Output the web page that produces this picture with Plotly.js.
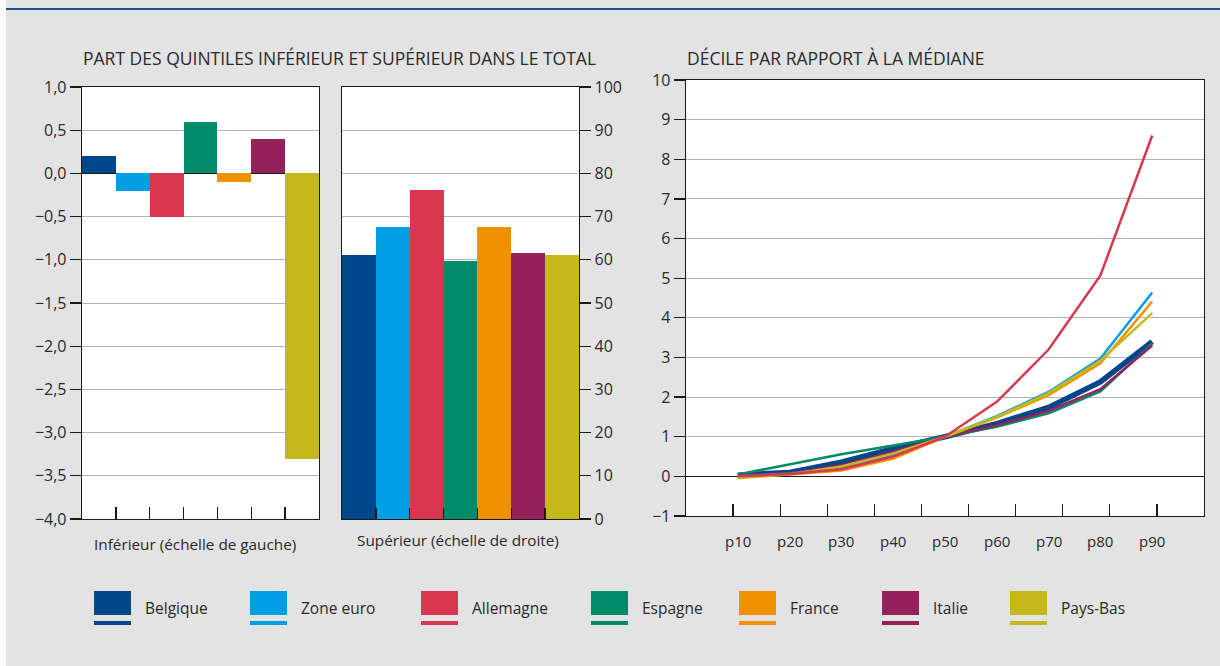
<!DOCTYPE html>
<html><head><meta charset="utf-8">
<script src="https://cdn.plot.ly/plotly-3.0.1.min.js"></script>
<style>html,body{margin:0;padding:0;background:#fff}#chart{width:1220px;height:666px}</style>
</head><body><div id="chart"></div>
<script>
// ---- data ----
const countries = ['Belgique','Zone euro','Allemagne','Espagne','France','Italie','Pays-Bas'];
const colors = ['#00468b','#009fe3','#d9374f','#008b68','#f29100','#95215c','#c4b919'];
const inferieur = [0.2, -0.2, -0.5, 0.6, -0.1, 0.4, -3.3];
const superieur = [61.1, 67.5, 76.1, 59.8, 67.5, 61.5, 61.1];
const deciles = ['p10','p20','p30','p40','p50','p60','p70','p80','p90'];
const belgique  = [0.03, 0.10, 0.36, 0.70, 1.00, 1.33, 1.74, 2.38, 3.40];
const zoneEuro  = [0.00, 0.07, 0.22, 0.52, 1.00, 1.52, 2.13, 2.97, 4.64];
const allemagne = [0.00, 0.06, 0.18, 0.50, 1.00, 1.88, 3.20, 5.07, 8.60];
const espagne   = [0.05, 0.30, 0.56, 0.78, 1.00, 1.25, 1.59, 2.14, 3.35];
const france    = [-0.02, 0.05, 0.15, 0.45, 1.00, 1.48, 2.05, 2.85, 4.41];
const italie    = [0.03, 0.08, 0.28, 0.62, 1.00, 1.29, 1.65, 2.20, 3.30];
const paysBas   = [-0.05, 0.05, 0.25, 0.58, 1.00, 1.50, 2.10, 2.92, 4.12];
const titleLeft = 'PART DES QUINTILES INFÉRIEUR ET SUPÉRIEUR DANS LE TOTAL';
const titleRight = 'DÉCILE PAR RAPPORT À LA MÉDIANE';
const labelInf = 'Inférieur (échelle de gauche)';
const labelSup = 'Supérieur (échelle de droite)';

// ---- layout helpers ----
const W = 1220, H = 666;
const px = x => x / W;
const py = y => 1 - y / H;
const FONT = '"Open Sans", "Noto Sans", sans-serif';
const TXT = '#2a2a2a';
const GRID = '#b4b4b4';

const lineSeries = [
  {name:'Belgique', y:belgique, c:0, w:5.5},
  {name:'Espagne', y:espagne, c:3, w:2.5},
  {name:'Italie', y:italie, c:5, w:2.5},
  {name:'Zone euro', y:zoneEuro, c:1, w:2.5},
  {name:'France', y:france, c:4, w:2.5},
  {name:'Pays-Bas', y:paysBas, c:6, w:2.5},
  {name:'Allemagne', y:allemagne, c:2, w:2.5}
];
const decX = deciles.map((d, i) => (i + 1) * 1.1);

const traces = [
  {type:'bar', x:countries, y:inferieur, marker:{color:colors, line:{width:0}},
   xaxis:'x', yaxis:'y', showlegend:false, hoverinfo:'x+y'},
  {type:'bar', x:countries, y:superieur, marker:{color:colors, line:{width:0}},
   xaxis:'x2', yaxis:'y2', showlegend:false, hoverinfo:'x+y'}
];
lineSeries.forEach(s => traces.push({
  type:'scatter', mode:'lines', x:decX, y:s.y, name:s.name,
  line:{color:colors[s.c], width:s.w}, xaxis:'x3', yaxis:'y3', showlegend:false
}));

const baseTick = {family:FONT, size:16, color:TXT};
const boxAxis = {showline:true, linecolor:'#1a1a1a', linewidth:1.3, mirror:true};

const layout = {
  width:W, height:H,
  margin:{l:0, r:0, t:0, b:0},
  paper_bgcolor:'#e3e3e3', plot_bgcolor:'#ffffff',
  separators:', ',
  bargap:0,
  font:{family:FONT, color:TXT},
  xaxis: Object.assign({}, boxAxis, {domain:[px(82), px(319)], anchor:'y', type:'category',
    range:[-0.5, 6.5], tickson:'boundaries', ticks:'inside', ticklen:12, tickcolor:'#1a1a1a',
    tickwidth:1.3, showticklabels:false, showgrid:false, zeroline:false, fixedrange:true}),
  yaxis: Object.assign({}, boxAxis, {domain:[py(519), py(87)], anchor:'x', range:[-4, 1],
    dtick:0.5, tick0:0, tickformat:'.1f', ticks:'outside', ticklen:11, tickcolor:'#1a1a1a',
    tickwidth:1.3, tickfont:baseTick, showgrid:true, gridcolor:GRID, gridwidth:1,
    zeroline:true, zerolinecolor:'#1a1a1a', zerolinewidth:1.5, fixedrange:true}),
  xaxis2: Object.assign({}, boxAxis, {domain:[px(342), px(579)], anchor:'y2', type:'category',
    range:[-0.5, 6.5], tickson:'boundaries', ticks:'inside', ticklen:11, tickcolor:'#1a1a1a',
    tickwidth:1.3, showticklabels:false, showgrid:false, zeroline:false, fixedrange:true}),
  yaxis2: Object.assign({}, boxAxis, {domain:[py(519), py(87)], anchor:'x2', side:'right',
    range:[0, 100], dtick:10, ticks:'outside', ticklen:11, tickcolor:'#1a1a1a', tickwidth:1.3,
    tickfont:baseTick, showgrid:true, gridcolor:GRID, gridwidth:1, zeroline:false, fixedrange:true}),
  xaxis3: Object.assign({}, boxAxis, {domain:[px(686), px(1204)], anchor:'y3', range:[0, 11],
    tickvals:[1,2,3,4,5,6,7,8,9,10], ticks:'inside', ticklen:12, tickcolor:'#1a1a1a',
    tickwidth:1.3, showticklabels:false, showgrid:false, zeroline:false, fixedrange:true}),
  yaxis3: Object.assign({}, boxAxis, {domain:[py(516), py(80)], anchor:'x3', range:[-1, 10],
    dtick:1, ticks:'outside', ticklen:11, tickcolor:'#1a1a1a', tickwidth:1.3,
    tickfont:baseTick, showgrid:true, gridcolor:GRID, gridwidth:1,
    zeroline:true, zerolinecolor:'#1a1a1a', zerolinewidth:1.5, fixedrange:true}),
  shapes: [
    {type:'rect', xref:'paper', yref:'paper', x0:0, x1:px(6), y0:0, y1:1,
     fillcolor:'#ffffff', line:{width:0}, layer:'below'},
    {type:'rect', xref:'paper', yref:'paper', x0:px(6), x1:1, y0:py(10), y1:py(8),
     fillcolor:'#1d4f8f', line:{width:0}}
  ],
  annotations: [
    {text:titleLeft, xref:'paper', yref:'paper', x:px(81), y:py(58), xanchor:'left', yanchor:'middle',
     showarrow:false, font:{family:FONT, size:17.5, color:TXT}},
    {text:titleRight, xref:'paper', yref:'paper', x:px(685), y:py(58), xanchor:'left', yanchor:'middle',
     showarrow:false, font:{family:FONT, size:17.5, color:TXT}},
    {text:labelInf, xref:'paper', yref:'paper', x:px(195), y:py(544), xanchor:'center', yanchor:'middle',
     showarrow:false, font:{family:FONT, size:15.3, color:TXT}},
    {text:labelSup, xref:'paper', yref:'paper', x:px(458), y:py(540), xanchor:'center', yanchor:'middle',
     showarrow:false, font:{family:FONT, size:15.3, color:TXT}}
  ]
};

deciles.forEach((d, i) => layout.annotations.push({
  text:d, xref:'x3', yref:'paper', x:decX[i], y:py(541), xanchor:'center', yanchor:'middle',
  showarrow:false, font:{family:FONT, size:15, color:TXT}
}));

// legend (custom)
const legendLeft = [94, 250, 421, 591, 739, 882, 1010];
countries.forEach((c, i) => {
  const x0 = legendLeft[i];
  layout.shapes.push({type:'rect', xref:'paper', yref:'paper', x0:px(x0), x1:px(x0 + 37),
    y0:py(615), y1:py(591), fillcolor:colors[i], line:{width:0}});
  layout.shapes.push({type:'rect', xref:'paper', yref:'paper', x0:px(x0), x1:px(x0 + 37),
    y0:py(625), y1:py(621), fillcolor:colors[i], line:{width:0}});
  layout.annotations.push({text:c, xref:'paper', yref:'paper', x:px(x0 + 49), y:py(608),
    xanchor:'left', yanchor:'middle', showarrow:false, font:{family:FONT, size:15.5, color:TXT}});
});

Plotly.newPlot('chart', traces, layout, {displayModeBar:false, staticPlot:true});
</script></body></html>
